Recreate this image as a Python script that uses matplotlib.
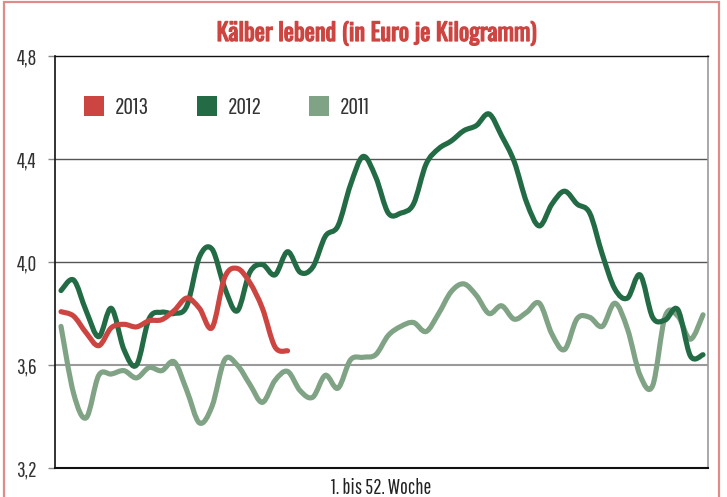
import numpy as np
import matplotlib
matplotlib.use("Agg")
import matplotlib.pyplot as plt
import matplotlib.patheffects as pe
from matplotlib.path import Path
from matplotlib.patches import PathPatch, Patch, Rectangle

# ---------------- data ----------------
title = "Kälber lebend (in Euro je Kilogramm)"
xlabel = "1. bis 52. Woche"
yticks = [3.2, 3.6, 4.0, 4.4, 4.8]
ytick_labels = ["3,2", "3,6", "4,0", "4,4", "4,8"]

weeks_2013 = list(range(1, 20))
prices_2013 = [3.807, 3.79, 3.725, 3.675, 3.745, 3.758, 3.748, 3.772, 3.776, 3.812,
               3.86, 3.82, 3.745, 3.94, 3.975, 3.92, 3.82, 3.67, 3.655]

weeks_2012 = list(range(1, 53))
prices_2012 = [3.889, 3.93, 3.81, 3.71, 3.82, 3.66, 3.60, 3.78, 3.805, 3.80,
               3.83, 4.02, 4.05, 3.90, 3.81, 3.96, 3.99, 3.95, 4.04, 3.96,
               3.98, 4.10, 4.14, 4.30, 4.41, 4.33, 4.19, 4.19, 4.225, 4.38,
               4.44, 4.47, 4.51, 4.53, 4.575, 4.49, 4.39, 4.23, 4.14, 4.225,
               4.275, 4.225, 4.19, 4.03, 3.895, 3.86, 3.95, 3.785, 3.775, 3.815,
               3.635, 3.64]

weeks_2011 = list(range(1, 53))
prices_2011 = [3.75, 3.49, 3.395, 3.56, 3.565, 3.578, 3.55, 3.59, 3.578, 3.612,
               3.50, 3.375, 3.44, 3.62, 3.60, 3.525, 3.455, 3.54, 3.575, 3.50,
               3.475, 3.56, 3.51, 3.62, 3.63, 3.64, 3.715, 3.75, 3.765, 3.73,
               3.80, 3.885, 3.915, 3.87, 3.80, 3.83, 3.778, 3.805, 3.84, 3.72,
               3.66, 3.78, 3.785, 3.75, 3.84, 3.74, 3.56, 3.52, 3.79, 3.79,
               3.70, 3.795]

series_names = ["2013", "2012", "2011"]
colors = {"2013": "#CC4541", "2012": "#236B45", "2011": "#7FA384"}

# ---------------- helpers ----------------
def smooth_path(xs, ys):
    pts = np.column_stack([np.asarray(xs, float), np.asarray(ys, float)])
    n = len(pts)
    verts = [pts[0]]
    codes = [Path.MOVETO]
    for i in range(n - 1):
        p0 = pts[i - 1] if i > 0 else pts[i]
        p1 = pts[i]
        p2 = pts[i + 1]
        p3 = pts[i + 2] if i + 2 < n else pts[i + 1]
        c1 = p1 + (p2 - p0) / 6.0
        c2 = p2 - (p3 - p1) / 6.0
        verts += [c1, c2, p2]
        codes += [Path.CURVE4] * 3
    return Path(verts, codes)

label_font = ["Pathway Gothic One", "Liberation Sans Narrow", "DejaVu Sans"]
title_font = ["Oswald", "Liberation Sans Narrow", "DejaVu Sans"]

# ---------------- figure ----------------
fig = plt.figure(figsize=(7.27, 4.97), dpi=100)
ax = fig.add_axes([55 / 727, 1 - 468 / 497, (708 - 55) / 727, (468 - 56) / 497])

ax.set_xlim(0.5234, 52.397)
ax.set_ylim(3.2, 4.8)

# grid lines
for yv, col, lw in [(3.6, "#9a9a9a", 1.5), (4.0, "#555555", 1.0), (4.4, "#555555", 1.0)]:
    ax.axhline(yv, color=col, lw=lw, zorder=1)

# series (2011 bottom, 2013 top)
data = {"2013": (weeks_2013, prices_2013),
        "2012": (weeks_2012, prices_2012),
        "2011": (weeks_2011, prices_2011)}
for z, name in zip([5, 4, 3], series_names):
    xs, ys = data[name]
    pp = PathPatch(smooth_path(xs, ys), fill=False, edgecolor=colors[name],
                   lw=3.7, capstyle="round", joinstyle="round", zorder=z)
    ax.add_patch(pp)

# spines
for s in ["left", "top", "bottom"]:
    ax.spines[s].set_color("#111111")
ax.spines["left"].set_linewidth(1.2)
ax.spines["top"].set_linewidth(1.0)
ax.spines["bottom"].set_linewidth(1.5)
ax.spines["right"].set_color("#9a9a9a")
ax.spines["right"].set_linewidth(1.2)

ax.set_xticks([])
ax.set_yticks(yticks)
ax.set_yticklabels(ytick_labels, family=label_font, fontsize=15.5, color="#333333")
ax.tick_params(axis="y", length=5, width=1.0, color="#888888", pad=8)

ax.set_xlabel(xlabel, family=label_font, fontsize=15, color="#222222", labelpad=7)

# legend
handles = [Patch(facecolor=colors[n], edgecolor="none") for n in series_names]
leg = ax.legend(handles, series_names, loc="upper left", ncol=3, frameon=False,
                bbox_to_anchor=(0.0444, 0.902), borderaxespad=0, borderpad=0,
                handlelength=0.85, handleheight=0.92, handletextpad=0.47,
                columnspacing=2.0, prop={"family": label_font, "size": 17},
                labelcolor="#333333")

# title
fig.text(376 / 727, 1 - 41 / 497, title, ha="center", va="baseline",
         family=title_font, fontweight="bold", fontsize=17.4, color="#CC4541",
         path_effects=[pe.withStroke(linewidth=0.9, foreground="#CC4541")])

# outer frame
fig.patches.append(Rectangle((4 / 727, -0.05), (719 - 4) / 727, 1 - 2 / 497 + 0.05,
                             transform=fig.transFigure, fill=False,
                             edgecolor="#E08A8A", lw=1.6))

fig.savefig("out.png", dpi=100)
